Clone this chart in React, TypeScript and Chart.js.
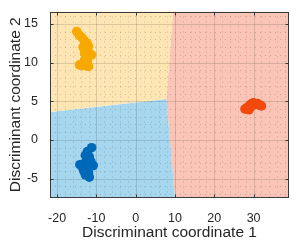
import React, { useEffect, useRef } from "react";
import { Chart, registerables } from "chart.js";

Chart.register(...registerables);

// Axis limits and tick labels
const xLimits = [-21.8, 39];
const yLimits = [-7.5, 16.6];
const xTicks = [-20, -10, 0, 10, 20, 30];
const yTicks = [-5, 0, 5, 10, 15];
const xMinorStep = 2;
const yMinorStep = 1;

// Class 1 (yellow) scores
const class1 = [
  { x: -15.0, y: 14.0 }, { x: -14.3, y: 13.5 }, { x: -13.6, y: 13.2 },
  { x: -13.0, y: 12.8 }, { x: -12.4, y: 12.5 }, { x: -12.0, y: 12.1 },
  { x: -13.4, y: 12.0 }, { x: -12.2, y: 11.5 }, { x: -13.0, y: 11.2 },
  { x: -11.2, y: 11.0 }, { x: -12.5, y: 10.8 }, { x: -13.0, y: 10.3 },
  { x: -14.3, y: 9.7 }, { x: -13.5, y: 9.6 }, { x: -12.5, y: 9.6 },
  { x: -12.0, y: 9.5 }, { x: -13.0, y: 10.0 }, { x: -12.3, y: 10.2 },
];

// Class 2 (blue) scores
const class2 = [
  { x: -11.2, y: -1.0 }, { x: -12.3, y: -1.5 }, { x: -12.8, y: -2.0 },
  { x: -11.8, y: -2.2 }, { x: -12.5, y: -2.7 }, { x: -11.4, y: -2.8 },
  { x: -13.0, y: -3.0 }, { x: -14.2, y: -3.2 }, { x: -10.8, y: -3.3 },
  { x: -13.5, y: -3.6 }, { x: -12.2, y: -3.5 }, { x: -13.2, y: -4.0 },
  { x: -12.0, y: -4.2 }, { x: -12.8, y: -4.5 }, { x: -11.8, y: -4.8 },
];

// Class 3 (orange) scores
const class3 = [
  { x: 27.8, y: 4.0 }, { x: 28.3, y: 4.2 }, { x: 28.8, y: 3.9 },
  { x: 29.0, y: 4.5 }, { x: 29.5, y: 4.7 }, { x: 30.0, y: 4.8 },
  { x: 30.5, y: 4.6 }, { x: 31.0, y: 4.7 }, { x: 31.5, y: 4.5 },
  { x: 32.0, y: 4.4 }, { x: 29.2, y: 4.2 },
];

// Decision regions (polygon vertices)
const regionYellow = [
  { x: -21.8, y: 16.6 }, { x: 9.5, y: 16.6 }, { x: 7.8, y: 5.3 },
  { x: -21.8, y: 3.6 }, { x: -21.8, y: 16.6 },
];
const regionBlue = [
  { x: -21.8, y: 3.6 }, { x: 7.8, y: 5.3 }, { x: 10.0, y: -7.5 },
  { x: -21.8, y: -7.5 }, { x: -21.8, y: 3.6 },
];
const regionPink = [
  { x: 9.5, y: 16.6 }, { x: 39, y: 16.6 }, { x: 39, y: -7.5 },
  { x: 10.0, y: -7.5 }, { x: 7.8, y: 5.3 }, { x: 9.5, y: 16.6 },
];

const FONT = "'Liberation Sans', Arial, Helvetica, sans-serif";

const gridPlugin = {
  id: "matlabGrid",
  beforeDatasetDraw(chart: any, args: any) {
    if (args.index !== 2) return;
    const { ctx, chartArea, scales } = chart;
    const xs = scales.x;
    const ys = scales.y;
    ctx.save();
    ctx.beginPath();
    ctx.rect(chartArea.left, chartArea.top, chartArea.right - chartArea.left, chartArea.bottom - chartArea.top);
    ctx.clip();
    // minor dotted grid
    ctx.strokeStyle = "rgba(0,0,0,0.17)";
    ctx.lineWidth = 1;
    ctx.setLineDash([1, 4]);
    for (let v = Math.ceil(xLimits[0] / xMinorStep) * xMinorStep; v <= xLimits[1]; v += xMinorStep) {
      if (xTicks.includes(v)) continue;
      const px = Math.round(xs.getPixelForValue(v)) + 0.5;
      ctx.beginPath();
      ctx.moveTo(px, chartArea.top);
      ctx.lineTo(px, chartArea.bottom);
      ctx.stroke();
    }
    for (let v = Math.ceil(yLimits[0] / yMinorStep) * yMinorStep; v <= yLimits[1]; v += yMinorStep) {
      if (yTicks.includes(v)) continue;
      const py = Math.round(ys.getPixelForValue(v)) + 0.5;
      ctx.beginPath();
      ctx.moveTo(chartArea.left, py);
      ctx.lineTo(chartArea.right, py);
      ctx.stroke();
    }
    // major grid
    ctx.setLineDash([]);
    ctx.strokeStyle = "rgba(0,0,0,0.13)";
    for (const v of xTicks) {
      const px = Math.round(xs.getPixelForValue(v)) + 0.5;
      ctx.beginPath();
      ctx.moveTo(px, chartArea.top);
      ctx.lineTo(px, chartArea.bottom);
      ctx.stroke();
    }
    for (const v of yTicks) {
      const py = Math.round(ys.getPixelForValue(v)) + 0.5;
      ctx.beginPath();
      ctx.moveTo(chartArea.left, py);
      ctx.lineTo(chartArea.right, py);
      ctx.stroke();
    }
    ctx.restore();
  },
  afterDraw(chart: any) {
    const { ctx, chartArea, scales } = chart;
    const xs = scales.x;
    const ys = scales.y;
    const l = Math.round(chartArea.left) + 0.5;
    const r = Math.round(chartArea.right) - 0.5;
    const t = Math.round(chartArea.top) + 0.5;
    const b = Math.round(chartArea.bottom) - 0.5;
    ctx.save();
    ctx.strokeStyle = "#3a3a3a";
    ctx.lineWidth = 1;
    ctx.strokeRect(l, t, r - l, b - t);
    const tl = 3;
    ctx.beginPath();
    for (const v of xTicks) {
      const px = Math.round(xs.getPixelForValue(v)) + 0.5;
      ctx.moveTo(px, b);
      ctx.lineTo(px, b - tl);
      ctx.moveTo(px, t);
      ctx.lineTo(px, t + tl);
    }
    for (const v of yTicks) {
      const py = Math.round(ys.getPixelForValue(v)) + 0.5;
      ctx.moveTo(l, py);
      ctx.lineTo(l + tl, py);
      ctx.moveTo(r, py);
      ctx.lineTo(r - tl, py);
    }
    ctx.stroke();
    ctx.restore();
  },
};

export default function App() {
  const canvasRef = useRef<HTMLCanvasElement | null>(null);

  useEffect(() => {
    if (!canvasRef.current) return;
    const pointDs = (data: any[], color: string) => ({
      type: "scatter" as const,
      data,
      backgroundColor: color,
      borderColor: color,
      borderWidth: 0,
      pointRadius: 4.8,
      pointHoverRadius: 4.8,
      showLine: false,
    });
    const regionDs = (data: any[], color: string) => ({
      type: "scatter" as const,
      data,
      showLine: true,
      fill: "shape",
      backgroundColor: color,
      borderColor: "rgba(0,0,0,0)",
      borderWidth: 0,
      pointRadius: 0,
      tension: 0,
    });
    const chart = new Chart(canvasRef.current, {
      type: "scatter",
      data: {
        datasets: [
          pointDs(class1, "#F7A900"),
          pointDs(class2, "#0068B8"),
          pointDs(class3, "#F24A0C"),
          regionDs(regionYellow, "#FDE6B3"),
          regionDs(regionBlue, "#A7D7EE"),
          regionDs(regionPink, "#FAC5B6"),
        ] as any,
      },
      options: {
        animation: false,
        responsive: false,
        events: [],
        layout: { padding: { top: 10, right: 8, left: 0, bottom: 0 } },
        plugins: {
          legend: { display: false },
          tooltip: { enabled: false },
        },
        scales: {
          x: {
            type: "linear",
            min: xLimits[0],
            max: xLimits[1],
            afterFit: (s: any) => { s.height = 49; },
            afterBuildTicks: (s: any) => { s.ticks = xTicks.map((v) => ({ value: v })); },
            grid: { display: false },
            border: { display: false },
            ticks: {
              includeBounds: false,
              padding: 5,
              color: "#262626",
              font: { family: FONT, size: 12.5 },
              maxRotation: 0,
              callback: (v: any) => String(v),
            },
            title: {
              display: true,
              text: "Discriminant coordinate 1",
              color: "#262626",
              font: { family: FONT, size: 15.5 },
              padding: { top: 0, bottom: 5 },
            },
          },
          y: {
            type: "linear",
            min: yLimits[0],
            max: yLimits[1],
            afterFit: (s: any) => { s.width = 50; },
            afterBuildTicks: (s: any) => { s.ticks = yTicks.map((v) => ({ value: v })); },
            grid: { display: false },
            border: { display: false },
            ticks: {
              includeBounds: false,
              padding: 4,
              color: "#262626",
              font: { family: FONT, size: 12.5 },
              callback: (v: any) => String(v),
            },
            title: {
              display: true,
              text: "Discriminant coordinate 2",
              color: "#262626",
              font: { family: FONT, size: 15.5 },
              padding: { top: 6, bottom: 0 },
            },
          },
        },
      } as any,
      plugins: [gridPlugin],
    });
    return () => chart.destroy();
  }, []);

  return (
    <div style={{ position: "absolute", left: 0, top: 0, width: 297, height: 247, background: "#fff" }}>
      <canvas ref={canvasRef} width={297} height={247} style={{ display: "block" }} />
    </div>
  );
}
